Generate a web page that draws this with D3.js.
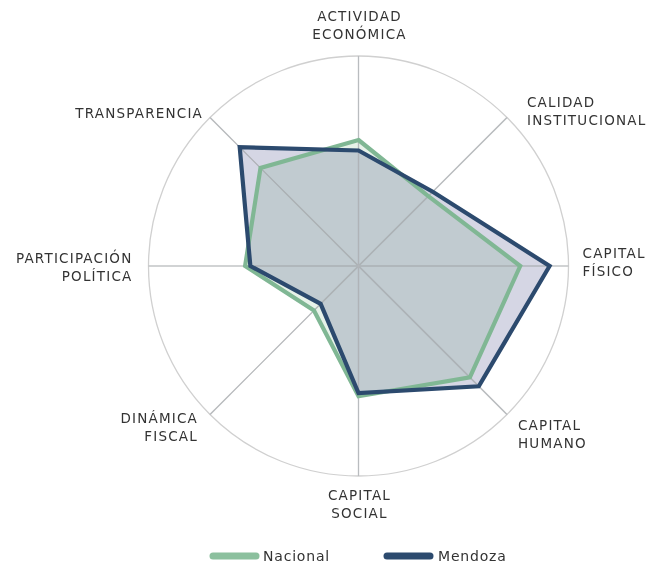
<!DOCTYPE html>
<html lang="es">
<head>
<meta charset="utf-8">
<script src="https://cdn.jsdelivr.net/npm/d3@7"></script>
<style>
  html, body { margin: 0; padding: 0; background: #ffffff; }
  svg { display: block; }
  .area { mix-blend-mode: multiply; }
</style>
</head>
<body>
<svg id="chart" width="648" height="570"></svg>
<script>
// Ejes del radar (en sentido horario desde arriba)
const dimensiones = [
  ["ACTIVIDAD", "ECONÓMICA"],
  ["CALIDAD", "INSTITUCIONAL"],
  ["CAPITAL", "FÍSICO"],
  ["CAPITAL", "HUMANO"],
  ["CAPITAL", "SOCIAL"],
  ["DINÁMICA", "FISCAL"],
  ["PARTICIPACIÓN", "POLÍTICA"],
  ["TRANSPARENCIA"]
];

// Puntajes (escala 0–100)
const nacional = [60, 47, 77, 75, 62, 30, 54, 66];
const mendoza  = [55, 50, 91, 81, 60.5, 25.5, 51.5, 80];

const serieNombres = ["Nacional", "Mendoza"];

// ---- layout ----
const svg = d3.select("#chart");
const cx = 358.5, cy = 266, R = 210;
const FONT = "'DejaVu Sans', sans-serif";

const colores = {
  Nacional: { line: "#80b794", fill: "#e7f2e9" },
  Mendoza:  { line: "#2c4a6e", fill: "#d5d6e4" }
};

const angle = d3.scaleLinear().domain([0, dimensiones.length]).range([0, 2 * Math.PI]);
const r = d3.scaleLinear().domain([0, 100]).range([0, R]);

const g = svg.append("g").attr("transform", `translate(${cx},${cy})`);

// Circunferencia exterior
g.append("circle")
  .attr("r", r(100))
  .attr("fill", "none")
  .attr("stroke", "#d0d0d0")
  .attr("stroke-width", 1.3);

// Radios
g.selectAll("line.spoke")
  .data(dimensiones)
  .join("line")
  .attr("class", "spoke")
  .attr("x1", 0).attr("y1", 0)
  .attr("x2", (d, i) => r(100) * Math.sin(angle(i)))
  .attr("y2", (d, i) => -r(100) * Math.cos(angle(i)))
  .attr("stroke", "#cccccc")
  .attr("stroke-width", 1.2);

// Áreas y contornos
const radial = d3.lineRadial()
  .angle((d, i) => angle(i))
  .radius(d => r(d))
  .curve(d3.curveLinearClosed);

const series = [
  { name: "Nacional", values: nacional },
  { name: "Mendoza", values: mendoza }
];

const areas = g.append("g");
areas.selectAll("path.area")
  .data(series)
  .join("path")
  .attr("class", "area")
  .attr("d", d => radial(d.values))
  .attr("fill", d => colores[d.name].fill)
  .attr("stroke", "none");

// Radios visibles a través de las áreas
g.selectAll("line.spoke-top")
  .data(dimensiones)
  .join("line")
  .attr("class", "spoke-top")
  .attr("x1", 0).attr("y1", 0)
  .attr("x2", (d, i) => r(100) * Math.sin(angle(i)))
  .attr("y2", (d, i) => -r(100) * Math.cos(angle(i)))
  .attr("stroke", "#b4b8bc")
  .attr("stroke-opacity", 0.8)
  .attr("stroke-width", 1.2);

g.selectAll("path.outline")
  .data(series)
  .join("path")
  .attr("class", "outline")
  .attr("d", d => radial(d.values))
  .attr("fill", "none")
  .attr("stroke", d => colores[d.name].line)
  .attr("stroke-width", 4.2)
  .attr("stroke-linejoin", "miter");

// Etiquetas de los ejes: desplazamiento respecto al extremo de cada radio
const etiquetaPos = [
  { dx: 1,   dy: -35, anchor: "middle" },
  { dx: 20,  dy: -11, anchor: "start" },
  { dx: 14,  dy: -8,  anchor: "start" },
  { dx: 11,  dy: 16,  anchor: "start" },
  { dx: 1,   dy: 24,  anchor: "middle" },
  { dx: -12, dy: 9,   anchor: "end" },
  { dx: -16, dy: -3,  anchor: "end" },
  { dx: -7,  dy: 0,   anchor: "end" }
];

const labels = g.selectAll("text.axis-label")
  .data(dimensiones)
  .join("text")
  .attr("class", "axis-label")
  .attr("x", (d, i) => r(100) * Math.sin(angle(i)) + etiquetaPos[i].dx)
  .attr("y", (d, i) => -r(100) * Math.cos(angle(i)) + etiquetaPos[i].dy)
  .attr("text-anchor", (d, i) => etiquetaPos[i].anchor)
  .attr("font-family", FONT)
  .attr("font-size", 13.5)
  .attr("letter-spacing", 1.2)
  .attr("fill", "#333333");

labels.each(function(lines) {
  const t = d3.select(this);
  const x = t.attr("x");
  lines.forEach((ln, k) => {
    t.append("tspan")
      .attr("x", x)
      .attr("dy", k === 0 ? 0 : 18)
      .text(ln);
  });
});

// Leyenda
const legendX = d3.scalePoint().domain(serieNombres).range([213, 387]);
const legend = svg.append("g");
const item = legend.selectAll("g")
  .data(serieNombres)
  .join("g")
  .attr("transform", d => `translate(${legendX(d)},556)`);

item.append("line")
  .attr("x1", 0).attr("x2", 43)
  .attr("y1", 0).attr("y2", 0)
  .attr("stroke", d => d === "Nacional" ? "#8cc09e" : colores[d].line)
  .attr("stroke-width", 7)
  .attr("stroke-linecap", "round");

item.append("text")
  .attr("x", d => d === "Nacional" ? 50 : 51)
  .attr("y", 5)
  .attr("font-family", FONT)
  .attr("font-size", 14)
  .attr("letter-spacing", 0.8)
  .attr("fill", "#333333")
  .text(d => d);
</script>
</body>
</html>
